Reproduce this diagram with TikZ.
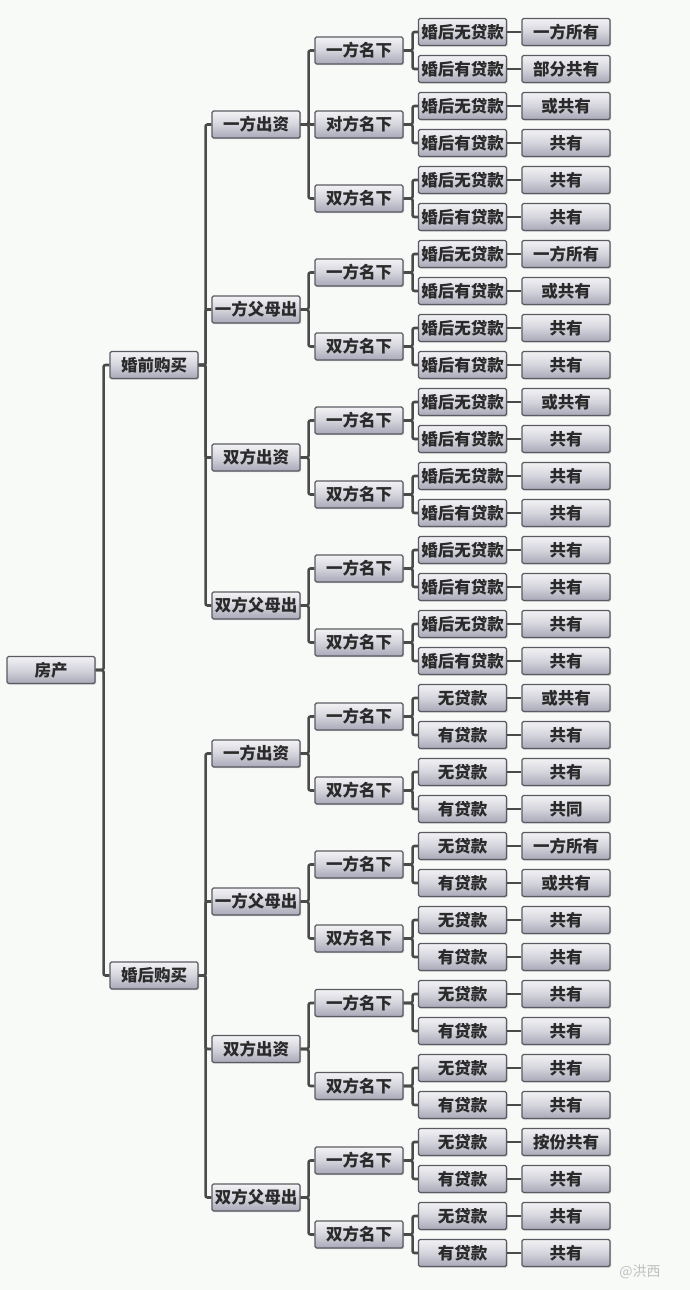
\documentclass[tikz,border=0pt]{standalone}
\usepackage{fontspec}
\setmainfont{Noto Sans CJK SC}
\usetikzlibrary{shadows}
\definecolor{bord}{HTML}{5A5A62}
\definecolor{boxtop}{HTML}{F2F2F5}
\definecolor{boxmid}{HTML}{D4D4DC}
\definecolor{boxbot}{HTML}{A8A8B8}
\definecolor{conn}{HTML}{4A4A4A}
\definecolor{txt}{HTML}{2A2A2A}
\definecolor{bg}{HTML}{F8FAF8}
\begin{document}
\begin{tikzpicture}[x=1pt,y=-1pt,
  box/.style={draw=bord, line width=1.1pt, rounded corners=1.5pt,
    minimum width=88pt, minimum height=27pt, inner sep=0pt,
    top color=boxtop, bottom color=boxbot, middle color=boxmid,
    text=txt, font=\fontsize{16.5}{17}\selectfont\bfseries,
    drop shadow={shadow xshift=1.2pt, shadow yshift=-1.2pt, opacity=0.35}},
  link/.style={draw=conn, line width=2.6pt, rounded corners=2pt}]
\fill[bg] (0,0) rectangle (690,1290);
\useasboundingbox (0,0) rectangle (690,1290);
% leaves
\foreach \i/\p/\q in {0/婚后无贷款/一方所有, 1/婚后有贷款/部分共有, 2/婚后无贷款/或共有, 3/婚后有贷款/共有,
  4/婚后无贷款/共有, 5/婚后有贷款/共有, 6/婚后无贷款/一方所有, 7/婚后有贷款/或共有,
  8/婚后无贷款/共有, 9/婚后有贷款/共有, 10/婚后无贷款/或共有, 11/婚后有贷款/共有,
  12/婚后无贷款/共有, 13/婚后有贷款/共有, 14/婚后无贷款/共有, 15/婚后有贷款/共有,
  16/婚后无贷款/共有, 17/婚后有贷款/共有, 18/无贷款/或共有, 19/有贷款/共有,
  20/无贷款/共有, 21/有贷款/共同, 22/无贷款/一方所有, 23/有贷款/或共有,
  24/无贷款/共有, 25/有贷款/共有, 26/无贷款/共有, 27/有贷款/共有,
  28/无贷款/共有, 29/有贷款/共有, 30/无贷款/按份共有, 31/有贷款/共有,
  32/无贷款/共有, 33/有贷款/共有}{
  \node[box] (a\i) at (462.5,{32+37*\i}) {\p};
  \node[box] (b\i) at (566,{32+37*\i}) {\q};
  \draw[link] (a\i.east) -- (b\i.west);
}
% level 4
\foreach \j/\y/\t/\r in {0/50.5/一方名下/0, 1/124.5/对方名下/2, 2/198.5/双方名下/4,
  3/272.5/一方名下/6, 4/346.5/双方名下/8, 5/420.5/一方名下/10, 6/494.5/双方名下/12,
  7/568.5/一方名下/14, 8/642.5/双方名下/16, 9/716.5/一方名下/18, 10/790.5/双方名下/20,
  11/864.5/一方名下/22, 12/938.5/双方名下/24, 13/1003/一方名下/26, 14/1086/双方名下/28,
  15/1160.5/一方名下/30, 16/1234.5/双方名下/32}{
  \pgfmathtruncatemacro\s{\r+1}
  \node[box] (d\j) at (359,\y) {\t};
  \draw[link] (d\j.east) -- ++(9,0) |- (a\r.west);
  \draw[link] (d\j.east) -- ++(9,0) |- (a\s.west);
}
% level 3
\foreach \k/\y/\t/\cl in {0/124.5/一方出资/{0,1,2}, 1/309.5/一方父母出/{3,4},
  2/457.5/双方出资/{5,6}, 3/605.5/双方父母出/{7,8}, 4/753.5/一方出资/{9,10},
  5/901.5/一方父母出/{11,12}, 6/1049/双方出资/{13,14}, 7/1197.5/双方父母出/{15,16}}{
  \node[box] (c\k) at (256,\y) {\t};
  \foreach \c in \cl {\draw[link] (c\k.east) -- ++(8,0) |- (d\c.west);}
}
% level 2
\node[box] (m0) at (154,365) {婚前购买};
\node[box] (m1) at (154,975.5) {婚后购买};
\foreach \c in {0,1,2,3} {\draw[link] (m0.east) -- ++(7,0) |- (c\c.west);}
\foreach \c in {4,5,6,7} {\draw[link] (m1.east) -- ++(7,0) |- (c\c.west);}
% root
\node[box] (r) at (51,670) {房产};
\draw[link] (r.east) -- ++(8,0) |- (m0.west);
\draw[link] (r.east) -- ++(8,0) |- (m1.west);
% watermark
\node[text=black!25, font=\fontsize{14}{14}\selectfont] (wm) at (640,1272) {@洪西};
\end{tikzpicture}
\end{document}
